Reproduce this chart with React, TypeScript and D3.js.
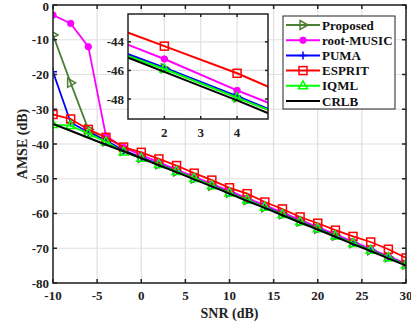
import React, { useEffect, useRef } from "react";
import * as d3 from "d3";

const snr = [-10, -8, -6, -4, -2, 0, 2, 4, 6, 8, 10, 12, 14, 16, 18, 20, 22, 24, 26, 28, 30];
const proposed = [-8.6, -22.4, -35.8, -39.3, -41.9, -44.0, -45.85, -47.9, -49.9, -52.0, -54.0, -56.1, -58.2, -60.2, -62.3, -64.4, -66.4, -68.5, -70.6, -72.6, -74.7];
const rootMusic = [-2.9, -5.3, -12.0, -37.7, -41.0, -43.2, -45.2, -47.4, -49.4, -51.5, -53.5, -55.6, -57.6, -59.7, -61.8, -63.9, -66.0, -68.1, -70.2, -72.3, -74.4];
const puma = [-19.2, -33.8, -36.6, -39.0, -41.8, -43.9, -45.8, -47.8, -49.9, -51.9, -54.0, -56.1, -58.1, -60.2, -62.3, -64.3, -66.4, -68.5, -70.5, -72.6, -74.7];
const esprit = [-31.5, -32.8, -35.8, -38.1, -40.9, -42.4, -44.3, -46.2, -48.4, -50.4, -52.6, -54.3, -56.7, -58.7, -61.0, -62.8, -64.8, -66.6, -68.2, -70.3, -72.8];
const iqml = [-34.4, -34.7, -37.0, -39.4, -42.3, -44.1, -45.9, -47.9, -49.9, -52.0, -54.1, -56.1, -58.2, -60.3, -62.4, -64.4, -66.5, -68.6, -70.6, -72.7, -74.8];
const crlb = [-34.2, -36.2, -38.2, -40.2, -42.1, -44.1, -46.1, -48.1, -50.2, -52.2, -54.3, -56.4, -58.4, -60.5, -62.6, -64.6, -66.7, -68.8, -70.8, -72.9, -75.0];

const xTicks = [-10, -5, 0, 5, 10, 15, 20, 25, 30];
const yTicks = [0, -10, -20, -30, -40, -50, -60, -70, -80];
const insetXTicks = [2, 3, 4];
const insetYTicks = [-44, -46, -48];

const series = [
  { name: "Proposed", values: proposed, color: "#4b7f35", marker: "tri-right" },
  { name: "root-MUSIC", values: rootMusic, color: "#ff00ff", marker: "circle" },
  { name: "PUMA", values: puma, color: "#0000ff", marker: "plus" },
  { name: "ESPRIT", values: esprit, color: "#ff0000", marker: "square" },
  { name: "IQML", values: iqml, color: "#00ff00", marker: "tri-up" },
  { name: "CRLB", values: crlb, color: "#000000", marker: "none" },
];

const FONT = "'Liberation Serif', 'Times New Roman', serif";

function drawMarker(g: any, kind: string, x: number, y: number, color: string) {
  if (kind === "circle") {
    g.append("circle").attr("cx", x).attr("cy", y).attr("r", 3.2).attr("fill", color).attr("stroke", color);
  } else if (kind === "square") {
    g.append("rect").attr("x", x - 4).attr("y", y - 4).attr("width", 8).attr("height", 8)
      .attr("fill", "none").attr("stroke", color).attr("stroke-width", 1.5);
  } else if (kind === "plus") {
    g.append("path").attr("d", `M${x - 4},${y}H${x + 4}M${x},${y - 4}V${y + 4}`)
      .attr("stroke", color).attr("stroke-width", 1.5);
  } else if (kind === "tri-up") {
    g.append("path").attr("d", `M${x},${y - 5}L${x + 4.5},${y + 3}L${x - 4.5},${y + 3}Z`)
      .attr("fill", "none").attr("stroke", color).attr("stroke-width", 1.5);
  } else if (kind === "tri-right") {
    g.append("path").attr("d", `M${x + 5},${y}L${x - 3},${y - 4.5}L${x - 3},${y + 4.5}Z`)
      .attr("fill", "none").attr("stroke", color).attr("stroke-width", 1.5);
  }
}

const App = () => {
  const svgRef = useRef<SVGSVGElement>(null);

  useEffect(() => {
    const width = 411, height = 326;
    const svg = d3.select(svgRef.current).attr("width", width).attr("height", height);
    svg.selectAll("*").remove();

    const m = { left: 53, right: 406, top: 5, bottom: 283 };
    const x = d3.scaleLinear().domain([-10, 30]).range([m.left, m.right]);
    const y = d3.scaleLinear().domain([-80, 0]).range([m.bottom, m.top]);

    svg.append("rect").attr("width", width).attr("height", height).attr("fill", "#fff");

    const defs = svg.append("defs");
    defs.append("clipPath").attr("id", "mainClip").append("rect")
      .attr("x", m.left).attr("y", m.top).attr("width", m.right - m.left).attr("height", m.bottom - m.top);

    // grid
    const grid = svg.append("g").attr("stroke", "#e0e0e0").attr("stroke-width", 1.2);
    xTicks.forEach(t => grid.append("line").attr("x1", x(t)).attr("x2", x(t)).attr("y1", m.top).attr("y2", m.bottom));
    yTicks.forEach(t => grid.append("line").attr("y1", y(t)).attr("y2", y(t)).attr("x1", m.left).attr("x2", m.right));

    // series
    const plot = svg.append("g").attr("clip-path", "url(#mainClip)");
    const line = d3.line<number>().x((_, i) => x(snr[i])).y(d => y(d));
    series.forEach(s => {
      plot.append("path").attr("d", line(s.values)).attr("fill", "none")
        .attr("stroke", s.color).attr("stroke-width", s.name === "CRLB" ? 2 : 1.8);
      s.values.forEach((v, i) => drawMarker(plot, s.marker, x(snr[i]), y(v), s.color));
    });

    // frame + ticks
    const frame = svg.append("g").attr("stroke", "#222").attr("stroke-width", 1.5);
    frame.append("rect").attr("x", m.left).attr("y", m.top).attr("width", m.right - m.left)
      .attr("height", m.bottom - m.top).attr("fill", "none");
    xTicks.forEach(t => {
      frame.append("line").attr("x1", x(t)).attr("x2", x(t)).attr("y1", m.bottom).attr("y2", m.bottom - 4);
      frame.append("line").attr("x1", x(t)).attr("x2", x(t)).attr("y1", m.top).attr("y2", m.top + 4);
    });
    yTicks.forEach(t => {
      frame.append("line").attr("y1", y(t)).attr("y2", y(t)).attr("x1", m.left).attr("x2", m.left + 4);
      frame.append("line").attr("y1", y(t)).attr("y2", y(t)).attr("x1", m.right).attr("x2", m.right - 4);
    });

    const labels = svg.append("g").attr("font-family", FONT).attr("font-weight", "bold")
      .attr("font-size", 13).attr("fill", "#222");
    xTicks.forEach(t => labels.append("text").attr("x", x(t)).attr("y", 299.5)
      .attr("text-anchor", "middle").text(String(t)));
    yTicks.forEach(t => labels.append("text").attr("x", 49).attr("y", Math.max(y(t) + 4.5, 10.5))
      .attr("text-anchor", "end").text(String(t)));
    labels.append("text").attr("x", (m.left + m.right) / 2).attr("y", 318)
      .attr("text-anchor", "middle").attr("font-size", 14).text("SNR (dB)");
    labels.append("text").attr("transform", `translate(27,${(m.top + m.bottom) / 2}) rotate(-90)`)
      .attr("text-anchor", "middle").attr("font-size", 14).text("AMSE (dB)");

    // inset
    const ins = { left: 128, right: 268, top: 14, bottom: 119 };
    const ix = d3.scaleLinear().domain([1.0, 4.85]).range([ins.left, ins.right]);
    const iy = d3.scaleLinear().domain([-49.4, -42.05]).range([ins.bottom, ins.top]);
    defs.append("clipPath").attr("id", "insetClip").append("rect")
      .attr("x", ins.left).attr("y", ins.top).attr("width", ins.right - ins.left).attr("height", ins.bottom - ins.top);

    svg.append("rect").attr("x", ins.left).attr("y", ins.top).attr("width", ins.right - ins.left)
      .attr("height", ins.bottom - ins.top).attr("fill", "#fff");
    const igrid = svg.append("g").attr("stroke", "#e0e0e0").attr("stroke-width", 1.2);
    insetXTicks.forEach(t => igrid.append("line").attr("x1", ix(t)).attr("x2", ix(t)).attr("y1", ins.top).attr("y2", ins.bottom));
    insetYTicks.forEach(t => igrid.append("line").attr("y1", iy(t)).attr("y2", iy(t)).attr("x1", ins.left).attr("x2", ins.right));

    const iplot = svg.append("g").attr("clip-path", "url(#insetClip)");
    const iline = d3.line<number>().x((_, i) => ix(snr[i])).y(d => iy(d));
    series.forEach(s => {
      iplot.append("path").attr("d", iline(s.values)).attr("fill", "none")
        .attr("stroke", s.color).attr("stroke-width", 2);
      s.values.forEach((v, i) => drawMarker(iplot, s.marker, ix(snr[i]), iy(v), s.color));
    });

    const iframe = svg.append("g").attr("stroke", "#222").attr("stroke-width", 1.5);
    iframe.append("rect").attr("x", ins.left).attr("y", ins.top).attr("width", ins.right - ins.left)
      .attr("height", ins.bottom - ins.top).attr("fill", "none");
    insetXTicks.forEach(t => {
      iframe.append("line").attr("x1", ix(t)).attr("x2", ix(t)).attr("y1", ins.bottom).attr("y2", ins.bottom - 3);
      iframe.append("line").attr("x1", ix(t)).attr("x2", ix(t)).attr("y1", ins.top).attr("y2", ins.top + 3);
    });
    insetYTicks.forEach(t => {
      iframe.append("line").attr("y1", iy(t)).attr("y2", iy(t)).attr("x1", ins.left).attr("x2", ins.left + 3);
      iframe.append("line").attr("y1", iy(t)).attr("y2", iy(t)).attr("x1", ins.right).attr("x2", ins.right - 3);
    });
    insetXTicks.forEach(t => labels.append("text").attr("x", ix(t)).attr("y", 137)
      .attr("text-anchor", "middle").text(String(t)));
    insetYTicks.forEach(t => labels.append("text").attr("x", 124).attr("y", iy(t) + 4.5)
      .attr("text-anchor", "end").text(String(t)));

    // legend
    const lg = svg.append("g");
    lg.append("rect").attr("x", 283).attr("y", 16).attr("width", 112).attr("height", 93)
      .attr("fill", "#fff").attr("stroke", "#222").attr("stroke-width", 1);
    series.forEach((s, i) => {
      const ly = 25 + i * 15.2;
      lg.append("line").attr("x1", 286).attr("x2", 320).attr("y1", ly).attr("y2", ly)
        .attr("stroke", s.color).attr("stroke-width", 2);
      drawMarker(lg, s.marker, 303, ly, s.color);
      lg.append("text").attr("x", 322).attr("y", ly + 4.5).attr("font-family", FONT)
        .attr("font-weight", "bold").attr("font-size", 13).attr("fill", "#111").text(s.name);
    });
  }, []);

  return (
    <div>
      <svg ref={svgRef} style={{ position: "absolute", left: 0, top: 0, display: "block" }}></svg>
    </div>
  );
};

export default App;
